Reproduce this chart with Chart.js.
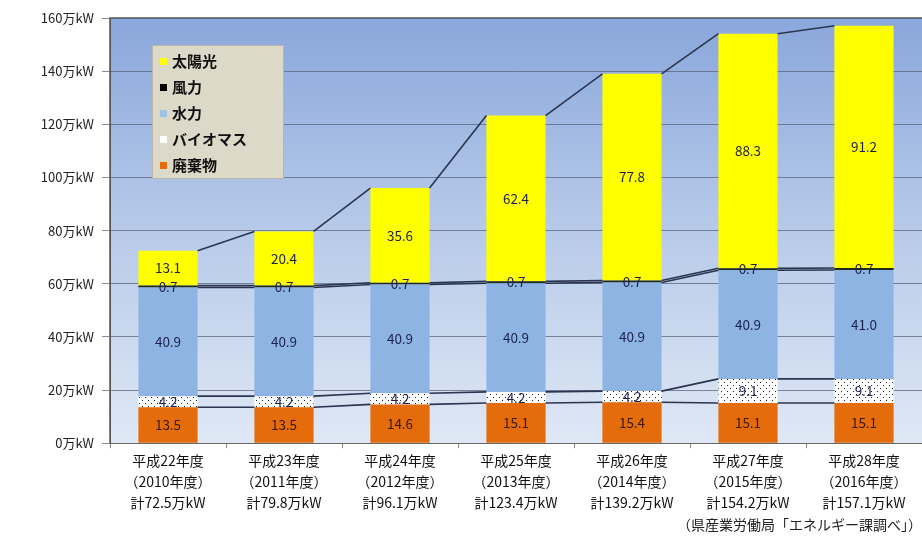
<!DOCTYPE html>
<html><head><meta charset="utf-8">
<script src="https://cdn.jsdelivr.net/npm/chart.js@4"></script>
<style>html,body{margin:0;padding:0;background:#fff}#wrap{width:922px;height:537px;position:relative}</style>
</head><body><div id="wrap"><canvas id="c"></canvas></div>
<script>
const eraLabels = ["平成22年度","平成23年度","平成24年度","平成25年度","平成26年度","平成27年度","平成28年度"];
const yearLabels = ["（2010年度）","（2011年度）","（2012年度）","（2013年度）","（2014年度）","（2015年度）","（2016年度）"];
const totalLabels = ["計72.5万kW","計79.8万kW","計96.1万kW","計123.4万kW","計139.2万kW","計154.2万kW","計157.1万kW"];
const waste   = [13.5, 13.5, 14.6, 15.1, 15.4, 15.1, 15.1];
const biomass = [4.2, 4.2, 4.2, 4.2, 4.2, 9.1, 9.1];
const hydro   = [40.9, 40.9, 40.9, 40.9, 40.9, 40.9, 41.0];
const wind    = [0.7, 0.7, 0.7, 0.7, 0.7, 0.7, 0.7];
const solar   = [13.1, 20.4, 35.6, 62.4, 77.8, 88.3, 91.2];
const seriesNames = ["廃棄物","バイオマス","水力","風力","太陽光"];
const yTickUnit = "万kW";
const sourceText = "（県産業労働局「エネルギー課調べ」）";

const labels = eraLabels.map((e,i)=>[e, yearLabels[i], totalLabels[i]]);

function dotPattern(){
  const c = document.createElement('canvas'); c.width = 6; c.height = 6;
  const x = c.getContext('2d');
  x.fillStyle = '#ffffff'; x.fillRect(0,0,6,6);
  x.fillStyle = '#222'; x.fillRect(1,1,1,1); x.fillRect(4,4,1,1);
  return x.createPattern(c,'repeat');
}
const colors = ['#e46c0a', null, '#8db4e2', '#1e2a1e', '#ffff00'];
const legendColors = ['#e46c0a', '#ffffff', '#9dc3e6', '#000000', '#ffff00'];
const FONT = '"Noto Sans CJK JP", "Noto Sans", sans-serif';

const bgPlugin = {
  id:'bg',
  beforeDraw(chart){
    const {ctx, chartArea:a} = chart;
    const g = ctx.createLinearGradient(0,a.top,0,a.bottom);
    g.addColorStop(0,'#8aa7db'); g.addColorStop(0.5,'#b7cae9'); g.addColorStop(1,'#dfe8f5');
    ctx.save(); ctx.fillStyle = g; ctx.fillRect(a.left,a.top,a.right-a.left,a.bottom-a.top);
    ctx.strokeStyle = '#555'; ctx.lineWidth = 1.5;
    ctx.beginPath(); ctx.moveTo(a.left,a.bottom); ctx.lineTo(a.left,a.top); ctx.lineTo(a.right,a.top); ctx.stroke();
    ctx.restore();
  }
};
const seriesLines = {
  id:'serieslines',
  afterDatasetsDraw(chart){
    const ctx = chart.ctx; ctx.save();
    ctx.strokeStyle = '#2a3550'; ctx.lineWidth = 1.6;
    chart.data.datasets.forEach((ds,di)=>{
      const els = chart.getDatasetMeta(di).data;
      for(let i=0;i<els.length-1;i++){
        const a = els[i], b = els[i+1];
        ctx.beginPath(); ctx.moveTo(a.x + a.width/2, a.y); ctx.lineTo(b.x - b.width/2, b.y); ctx.stroke();
      }
    });
    ctx.restore();
  }
};
const valueLabels = {
  id:'valuelabels',
  afterDatasetsDraw(chart){
    const ctx = chart.ctx; ctx.save();
    ctx.font = '13.5px ' + FONT; ctx.textAlign = 'center'; ctx.textBaseline = 'middle';
    chart.data.datasets.forEach((ds,di)=>{
      chart.getDatasetMeta(di).data.forEach((el,i)=>{
        const v = ds.data[i];
        let y = (el.y + el.base)/2;
        if (di === 3) y = el.y + 1;
        ctx.fillStyle = di === 0 ? '#3a1500' : '#1c2250';
        ctx.fillText(v.toFixed(1), el.x, y);
      });
    });
    ctx.restore();
  }
};
const legendBox = {
  id:'legendbox',
  afterDraw(chart){
    const ctx = chart.ctx; ctx.save();
    const x0 = 152, y0 = 45, w = 131, h = 133;
    ctx.fillStyle = '#dcd9c8'; ctx.fillRect(x0,y0,w,h);
    ctx.strokeStyle = '#b8b6a8'; ctx.lineWidth = 1; ctx.strokeRect(x0+0.5,y0+0.5,w,h);
    ctx.font = 'bold 15px ' + FONT; ctx.textBaseline = 'middle'; ctx.textAlign = 'left';
    for(let k=0;k<5;k++){
      const si = 4-k;
      const y = y0 + 16 + k*26;
      ctx.fillStyle = legendColors[si]; ctx.fillRect(x0+8, y-3, 7, 7);
      ctx.fillStyle = '#111'; ctx.fillText(seriesNames[si], x0+20, y);
    }
    ctx.restore();
  }
};

const dataArrays = [waste, biomass, hydro, wind, solar];
const datasets = dataArrays.map((d,i)=>({
  label: seriesNames[i], data: d,
  backgroundColor: i===1 ? dotPattern() : colors[i],
  borderWidth: 0,
  barPercentage: 0.51, categoryPercentage: 1.0
}));

new Chart(document.getElementById('c'), {
  type:'bar',
  data:{ labels, datasets },
  options:{
    responsive:true, maintainAspectRatio:false, animation:false,
    layout:{ padding:{ top:18, right:0, left:0, bottom:0 } },
    plugins:{
      legend:{ display:false }, tooltip:{ enabled:false },
      subtitle:{ display:true, text: sourceText, position:'bottom', align:'end',
        font:{ size:14, family: FONT }, color:'#222', padding:{ top:0, bottom:4 } }
    },
    scales:{
      x:{ stacked:true,
        afterFit(s){ s.height = 73; },
        grid:{ offset:true, drawOnChartArea:false, tickLength:5, color:'#888' },
        border:{ display:true, color:'#666' },
        ticks:{ font:{ size:14, family: FONT, lineHeight:1.5 }, color:'#111', padding:2, maxRotation:0, autoSkip:false }
      },
      y:{ stacked:true, min:0, max:160,
        afterFit(s){ s.width = 110; },
        grid:{ color:'rgba(90,100,125,0.75)', tickLength:8, lineWidth:1 },
        border:{ display:true, color:'#555' },
        ticks:{ stepSize:20, font:{ size:13, family: FONT }, color:'#222', padding:8,
          callback: v => v + yTickUnit }
      }
    }
  },
  plugins:[bgPlugin, seriesLines, valueLabels, legendBox]
});
</script>
</body></html>
